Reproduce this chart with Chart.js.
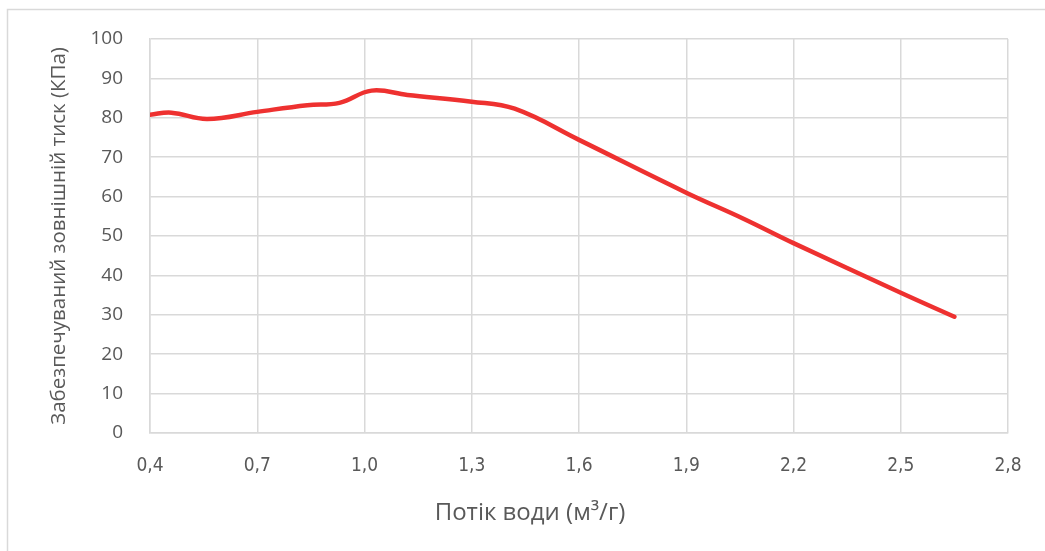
<!DOCTYPE html>
<html>
<head>
<meta charset="utf-8">
<script src="https://cdn.jsdelivr.net/npm/chart.js@4/dist/chart.umd.min.js"></script>
<style>
  html, body { margin: 0; padding: 0; background: #fff; }
  #wrap { position: relative; width: 1045px; height: 551px; }
</style>
</head>
<body>
<div id="wrap"><canvas id="c" width="1045" height="551"></canvas></div>
<script>
// Flow rate (m³/h) and available external pressure (kPa)
const flow     = [0.40, 0.46, 0.56, 0.70, 0.84, 0.93, 1.02, 1.12, 1.30, 1.42, 1.60, 1.90, 2.06, 2.20, 2.50, 2.65];
const pressure = [80.8, 81.3, 79.7, 81.5, 83.2, 83.8, 86.9, 85.8, 84.1, 82.3, 74.4, 61.0, 54.4, 48.2, 35.6, 29.5];

const xTicks = [0.4, 0.7, 1.0, 1.3, 1.6, 1.9, 2.2, 2.5, 2.8];
const yTicks = [0, 10, 20, 30, 40, 50, 60, 70, 80, 90, 100];

const xTitle = 'Потік води (м³/г)';
const yTitle = 'Забезпечуваний зовнішній тиск (КПа)';

const grey = '#595959';
const gridColor = '#d9d9d9';
const narrowFont = '"DejaVu Sans Condensed", "Liberation Sans Narrow", "Open Sans", sans-serif';
const mainFont = '"Open Sans", sans-serif';

// Thin frame along the top and left edge of the chart
const framePlugin = {
  id: 'frame',
  beforeDraw(chart) {
    const ctx = chart.ctx;
    ctx.save();
    ctx.strokeStyle = '#d9d9d9';
    ctx.lineWidth = 1.5;
    ctx.beginPath();
    ctx.moveTo(7.5, 551);
    ctx.lineTo(7.5, 9.5);
    ctx.lineTo(1045, 9.5);
    ctx.stroke();
    ctx.restore();
  }
};

// Horizontal axis title, centred under the whole figure rather than the plot area
const xTitlePlugin = {
  id: 'xTitle',
  afterDraw(chart) {
    const ctx = chart.ctx;
    ctx.save();
    ctx.fillStyle = grey;
    ctx.font = '24px ' + mainFont;
    ctx.textAlign = 'center';
    ctx.textBaseline = 'middle';
    ctx.fillText(xTitle, 530, 513);
    ctx.restore();
  }
};

new Chart(document.getElementById('c'), {
  type: 'line',
  data: {
    datasets: [{
      data: flow.map((x, i) => ({ x: x, y: pressure[i] })),
      borderColor: '#ee3130',
      borderWidth: 4.5,
      pointRadius: 0,
      tension: 0.4,
      fill: false,
      borderCapStyle: 'round',
      borderJoinStyle: 'round'
    }]
  },
  options: {
    responsive: false,
    animation: false,
    layout: { padding: { top: 39, right: 37, left: 0, bottom: 0 } },
    plugins: { legend: { display: false }, tooltip: { enabled: false } },
    scales: {
      x: {
        type: 'linear',
        min: 0.4, max: 2.8,
        afterBuildTicks(scale) { scale.ticks = xTicks.map(v => ({ value: v })); },
        afterFit(scale) { scale.height = 118; },
        grid: { color: gridColor, lineWidth: 1.5, drawTicks: false },
        border: { color: gridColor, width: 1.5 },
        ticks: {
          color: grey,
          padding: 22,
          font: { family: narrowFont, size: 19 },
          maxRotation: 0,
          callback: v => v.toFixed(1).replace('.', ',')
        },
        title: { display: false }
      },
      y: {
        min: 0, max: 100,
        afterBuildTicks(scale) { scale.ticks = yTicks.map(v => ({ value: v })); },
        afterFit(scale) { scale.width = 150; },
        grid: { color: gridColor, lineWidth: 1.5, drawTicks: false },
        border: { color: gridColor, width: 1.5 },
        ticks: {
          color: grey,
          padding: 27,
          font: { family: mainFont, size: 19 }
        },
        title: {
          display: true,
          text: yTitle,
          color: grey,
          padding: { top: 47, bottom: 0 },
          font: { family: mainFont, size: 20.5 }
        }
      }
    }
  },
  plugins: [framePlugin, xTitlePlugin]
});
</script>
</body>
</html>
